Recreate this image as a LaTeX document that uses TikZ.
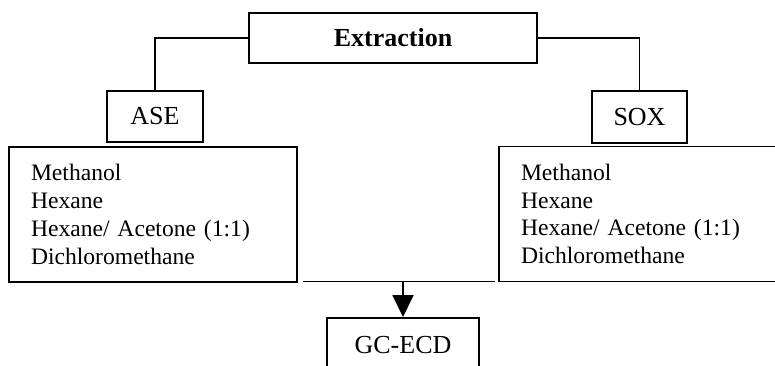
\documentclass[tikz,border=0pt]{standalone}
\usepackage{fontspec}
\setmainfont{Liberation Serif}
\usetikzlibrary{arrows.meta}
\tikzset{
  box/.style={draw, line width=1.9pt, rectangle, inner sep=0pt, font=\fontsize{26}{30}\selectfont},
  listbox/.style={draw, line width=1.9pt, rectangle, inner xsep=22pt, inner ysep=0pt,
    minimum width=288pt, minimum height=135pt, text width=244pt, align=left,
    font=\fontsize{23.6}{27.8}\selectfont},
  link/.style={line width=1.9pt},
  arrowlink/.style={line width=1.9pt, -{Triangle[width=21pt,length=22pt]}}
}
\begin{document}
\begin{tikzpicture}[x=1pt,y=-1pt]
\useasboundingbox (0,0) rectangle (775,366);
\clip (0,0) rectangle (775,366);
\node[box, minimum width=288pt, minimum height=50pt, font=\fontsize{26}{30}\selectfont\bfseries] (ext) at (393,38) {Extraction};
\node[box, minimum width=96pt, minimum height=51pt] (ase) at (155,116.5) {ASE};
\node[box, minimum width=95pt, minimum height=52pt] (sox) at (639.5,117) {SOX};
\node[listbox] (left) at (153,214.5) {Methanol\\Hexane\\Hexane/ Acetone (1:1)\\Dichloromethane};
\node[listbox] (right) at (643,214) {Methanol\\Hexane\\Hexane/ Acetone (1:1)\\Dichloromethane};
\node[box, minimum width=152pt, minimum height=54pt, anchor=north] (gc) at (403,317) {GC-ECD};
\draw[link] (ext.west) -| (ase.north);
\draw[link] (ext.east) -| (sox.north);
\coordinate (jl) at (303,281.5);
\coordinate (jr) at (495,281.5);
\draw[link] (jl) -- (jr);
\coordinate (jm) at (gc.north |- jl);
\draw[arrowlink] (jm) -- (gc.north);
\end{tikzpicture}
\end{document}
